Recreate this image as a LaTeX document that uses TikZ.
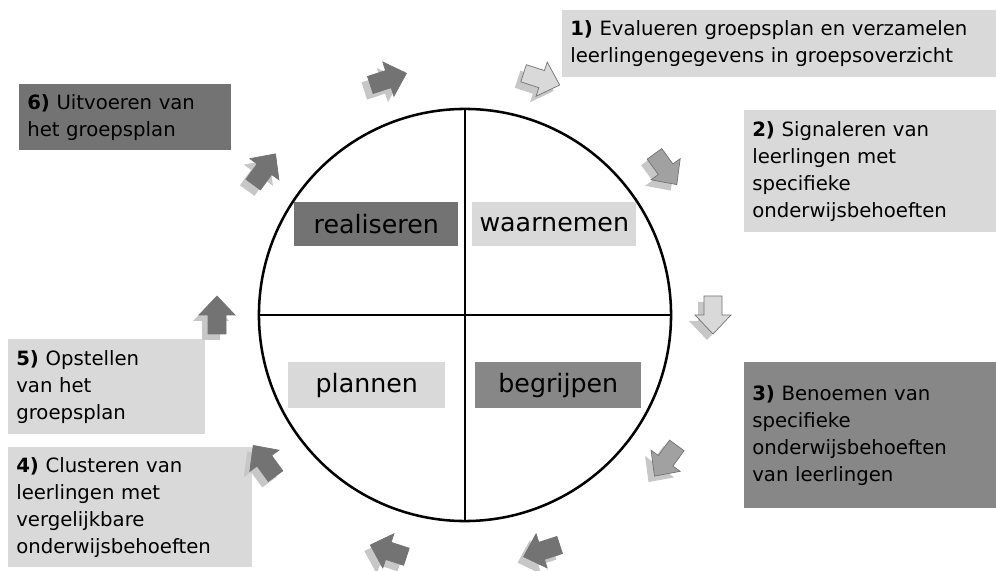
\documentclass[tikz,border=0pt]{standalone}
\usepackage{fontspec}
\setmainfont{DejaVu Sans}

\definecolor{licht}{gray}{0.85}
\definecolor{middel}{gray}{0.63}
\definecolor{donker}{gray}{0.45}
\definecolor{stapdonker}{gray}{0.53}
\definecolor{schaduw}{gray}{0.78}

\tikzset{
  stapbox/.style={anchor=north west, rectangle, inner xsep=0.2cm, inner ysep=0pt,
    align=left, text=black, font=\fontsize{14}{19.2}\selectfont},
  fasebox/.style={anchor=north west, rectangle, inner sep=0pt, align=center,
    font=\fontsize{18}{20}\selectfont, text=black},
  blokpijl/.style={fill=#1, draw=black!55, line width=0.5pt, line join=miter}
}

\begin{document}
\begin{tikzpicture}[x=0.025cm, y=-0.025cm]
    % Fix the size of the picture (pixels of the original)
    \useasboundingbox (0,0) rectangle (996,571);

    % Draw the circle and split it into four quarters
    \node[circle, draw, line width=1.8pt, minimum size=10.3cm, inner sep=0pt] (kring) at (465,315) {};
    \draw[line width=1.4pt] (kring.north) -- (kring.south);
    \draw[line width=1.4pt] (kring.west) -- (kring.east);

    % The four phases inside the circle
    \node[fasebox, fill=donker, minimum width=4.1cm, minimum height=1.1cm] (realiseren) at (294,202) {realiseren};
    \node[fasebox, fill=licht, minimum width=4.1cm, minimum height=1.1cm] (waarnemen) at (472,202) {waarnemen};
    \node[fasebox, fill=licht, minimum width=3.925cm, minimum height=1.15cm] (plannen) at (288,362) {plannen};
    \node[fasebox, fill=stapdonker, minimum width=4.15cm, minimum height=1.15cm] (begrijpen) at (475,362) {begrijpen};

    % The six steps round the circle
    \node[stapbox, fill=licht, text width=10.45cm, minimum height=1.675cm] (stap1) at (562,10)
      {\textbf{1)} Evalueren groepsplan en verzamelen\\leerlingengegevens in groepsoverzicht};
    \node[stapbox, fill=licht, text width=5.9cm, minimum height=3.05cm] (stap2) at (744,110)
      {\textbf{2)} Signaleren van\\leerlingen met\\specifieke\\onderwijsbehoeften};
    \node[stapbox, fill=stapdonker, text width=5.9cm, minimum height=3.65cm] (stap3) at (744,362)
      {\textbf{3)} Benoemen van\\specifieke\\onderwijsbehoeften\\van leerlingen};
    \node[stapbox, fill=licht, text width=5.7cm, minimum height=3cm] (stap4) at (8,447)
      {\textbf{4)} Clusteren van\\leerlingen met\\vergelijkbare\\onderwijsbehoeften};
    \node[stapbox, fill=licht, text width=4.525cm, minimum height=2.375cm] (stap5) at (8,339)
      {\textbf{5)} Opstellen\\van het\\groepsplan};
    \node[stapbox, fill=donker, text width=4.9cm, minimum height=1.65cm] (stap6) at (19,84)
      {\textbf{6)} Uitvoeren van\\het groepsplan};

    % Block arrows going clockwise round the circle, with their shadows
    \foreach \hoek/\kleur in {108/donker, 72/licht, 36/middel, 0/licht, -36/middel,
                              -72/donker, -108/donker, -144/donker, 180/donker, 144/donker} {
        \begin{scope}[shift={({465+248*cos(\hoek)},{315-248*sin(\hoek)})}]
            \fill[schaduw, shift={(-6,6)}, rotate=\hoek-90]
                (-19,-9) -- (0,-9) -- (0,-18) -- (19,0) -- (0,18) -- (0,9) -- (-19,9) -- cycle;
            \filldraw[blokpijl=\kleur, rotate=\hoek-90]
                (-19,-9) -- (0,-9) -- (0,-18) -- (19,0) -- (0,18) -- (0,9) -- (-19,9) -- cycle;
        \end{scope}
    }

\end{tikzpicture}
\end{document}
